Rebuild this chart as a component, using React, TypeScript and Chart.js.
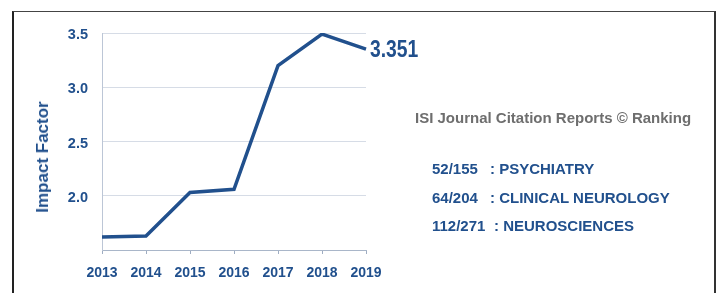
import React, { useEffect, useRef } from 'react';
import { Chart, registerables } from 'chart.js';

Chart.register(...registerables);

// ---- data ----
const years = ['2013', '2014', '2015', '2016', '2017', '2018', '2019'];
const impactFactor = [1.62, 1.63, 2.03, 2.06, 3.2, 3.49, 3.351];
const yMin = 1.5;
const yMax = 3.5;
const yStep = 0.5;
const axisTitle = 'Impact Factor';
const rankingTitle = 'ISI Journal Citation Reports © Ranking';
const rankPositions = ['52/155', '64/204', '112/271'];
const rankCategories = ['PSYCHIATRY', 'CLINICAL NEUROLOGY', 'NEUROSCIENCES'];

// ---- styles ----
const BLUE = '#21508d';
const FONT = "'Liberation Sans', Arial, Helvetica, sans-serif";

const valueLabel = {
  id: 'valueLabel',
  afterDatasetsDraw(chart: any) {
    const meta = chart.getDatasetMeta(0);
    const pt = meta.data[meta.data.length - 1];
    if (!pt) return;
    const v = impactFactor[impactFactor.length - 1];
    const ctx = chart.ctx;
    ctx.save();
    ctx.translate(pt.x + 4, pt.y);
    ctx.scale(0.84, 1);
    ctx.font = `bold 23px ${FONT}`;
    ctx.fillStyle = BLUE;
    ctx.textAlign = 'left';
    ctx.textBaseline = 'middle';
    ctx.fillText(v.toFixed(3), 0, 1);
    ctx.restore();
  },
};

export default function App() {
  const ref = useRef<HTMLCanvasElement | null>(null);

  useEffect(() => {
    if (!ref.current) return;
    const chart = new Chart(ref.current, {
      type: 'line',
      data: {
        labels: years,
        datasets: [
          {
            label: axisTitle,
            data: impactFactor,
            borderColor: BLUE,
            backgroundColor: BLUE,
            borderWidth: 3.5,
            pointRadius: 0,
            tension: 0,
            borderJoinStyle: 'miter',
            fill: false,
          },
        ],
      },
      options: {
        animation: false,
        responsive: false,
        devicePixelRatio: 1,
        layout: { padding: { left: 33, top: 33, right: 353, bottom: 0 } },
        plugins: {
          legend: { display: false },
          tooltip: { enabled: false },
        },
        scales: {
          x: {
            offset: false,
            grid: {
              drawOnChartArea: false,
              drawTicks: true,
              tickLength: 4,
              color: '#9fadc2',
            },
            border: { display: true, color: '#a9b6c9', width: 1 },
            ticks: {
              color: BLUE,
              padding: 11,
              maxRotation: 0,
              autoSkip: false,
              font: { family: FONT, size: 14, weight: 'bold' },
            },
            afterFit: (scale: any) => {
              scale.height = 43;
            },
          },
          y: {
            min: yMin,
            max: yMax,
            grid: { color: '#d6dce6', lineWidth: 1, drawTicks: false },
            border: { display: true, color: '#bcc6d6', width: 1 },
            ticks: {
              stepSize: yStep,
              color: BLUE,
              padding: 14,
              labelOffset: 2,
              font: { family: FONT, size: 14.5, weight: 'bold' },
              callback: (v: any) => (Number(v) <= yMin ? '' : Number(v).toFixed(1)),
            },
            afterFit: (scale: any) => {
              scale.width = 69;
            },
          },
        },
      },
      plugins: [valueLabel],
    });
    return () => chart.destroy();
  }, []);

  return (
    <div
      style={{
        position: 'fixed',
        left: 0,
        top: 0,
        width: 719,
        height: 293,
        background: '#fff',
        overflow: 'hidden',
        fontFamily: FONT,
      }}
    >
      <div
        style={{
          position: 'absolute',
          left: 12,
          top: 11,
          width: 704,
          height: 400,
          boxSizing: 'border-box',
          borderLeft: '2px solid #222',
          borderRight: '2px solid #333',
          borderTop: '1px solid #444',
        }}
      />
      <canvas
        ref={ref}
        width={719}
        height={293}
        style={{ position: 'absolute', left: 0, top: 0, width: 719, height: 293 }}
      />
      <div
        style={{
          position: 'absolute',
          left: 43,
          top: 156.5,
          transform: 'translate(-50%, -50%) rotate(-90deg)',
          whiteSpace: 'nowrap',
          fontWeight: 'bold',
          fontSize: 17,
          lineHeight: '20px',
          color: BLUE,
        }}
      >
        {axisTitle}
      </div>
      <div
        style={{
          position: 'absolute',
          left: 415,
          top: 109,
          whiteSpace: 'nowrap',
          fontWeight: 'bold',
          fontSize: 15,
          lineHeight: '18px',
          color: '#6e6e6e',
        }}
      >
        {rankingTitle}
      </div>
      {rankPositions.map((pos, i) => (
        <div
          key={pos}
          style={{
            position: 'absolute',
            left: 432,
            top: [169, 197.5, 226][i] - 9,
            whiteSpace: 'nowrap',
            fontWeight: 'bold',
            fontSize: 15,
            lineHeight: '18px',
            color: BLUE,
          }}
        >
          <span style={{ display: 'inline-block', width: i === 2 ? 62 : 58 }}>{pos}</span>
          <span>{': ' + rankCategories[i]}</span>
        </div>
      ))}
    </div>
  );
}
